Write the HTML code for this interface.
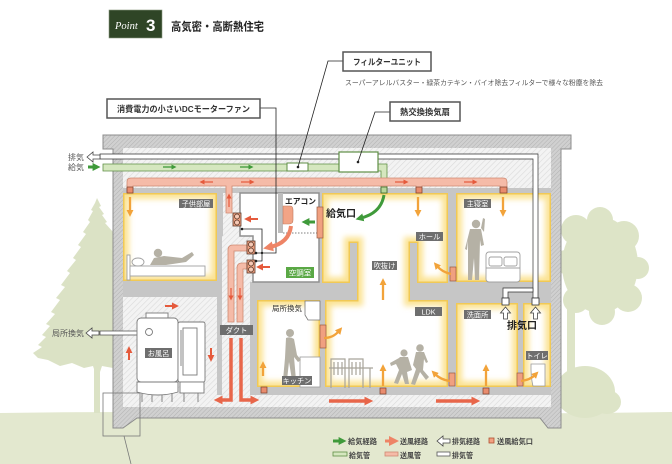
<!DOCTYPE html>
<html><head><meta charset="utf-8">
<style>
html,body{margin:0;padding:0;background:#fff;}
svg{display:block;}
text{font-family:"Liberation Sans","Noto Sans CJK JP",sans-serif;}
</style></head><body>
<svg width="672" height="464" viewBox="0 0 672 464" xmlns="http://www.w3.org/2000/svg">
<defs>
<pattern id="hl" width="4" height="4" patternUnits="userSpaceOnUse" patternTransform="rotate(45)"><rect width="4" height="4" fill="#f3f3f3"/><line x1="0" y1="0" x2="0" y2="4" stroke="#dadada" stroke-width="1.2"/></pattern>
<pattern id="hw" width="3" height="3" patternUnits="userSpaceOnUse" patternTransform="rotate(45)"><rect width="3" height="3" fill="#d0d0d0"/><line x1="0" y1="0" x2="0" y2="3" stroke="#b2b2b2" stroke-width="1"/></pattern>
<filter id="gb" x="-20%" y="-20%" width="140%" height="140%"><feGaussianBlur stdDeviation="3"/></filter>
<marker id="mO" viewBox="0 0 10 10" refX="3" refY="5" markerWidth="7" markerHeight="7" markerUnits="userSpaceOnUse" orient="auto"><path d="M0,0L10,5L0,10Z" fill="#f2a33a"/></marker>
<marker id="mR" viewBox="0 0 10 10" refX="3" refY="5" markerWidth="7" markerHeight="7" markerUnits="userSpaceOnUse" orient="auto"><path d="M0,0L10,5L0,10Z" fill="#e55a3c"/></marker>
<marker id="mRb" viewBox="0 0 10 10" refX="3" refY="5" markerWidth="9" markerHeight="9" markerUnits="userSpaceOnUse" orient="auto"><path d="M0,0L10,5L0,10Z" fill="#e8664a"/></marker>
<marker id="mRs" viewBox="0 0 10 10" refX="3" refY="5" markerWidth="5" markerHeight="5" markerUnits="userSpaceOnUse" orient="auto"><path d="M0,0L10,5L0,10Z" fill="#e55a3c"/></marker>
<marker id="mG" viewBox="0 0 10 10" refX="3" refY="5" markerWidth="8" markerHeight="8" markerUnits="userSpaceOnUse" orient="auto"><path d="M0,0L10,5L0,10Z" fill="#3f9a3a"/></marker>
<marker id="mGs" viewBox="0 0 10 10" refX="3" refY="5" markerWidth="5" markerHeight="5" markerUnits="userSpaceOnUse" orient="auto"><path d="M0,0L10,5L0,10Z" fill="#3f9a3a"/></marker>
<marker id="mS" viewBox="0 0 10 10" refX="3" refY="5" markerWidth="10" markerHeight="10" markerUnits="userSpaceOnUse" orient="auto"><path d="M0,0L10,5L0,10Z" fill="#ee8466"/></marker>
<clipPath id="c1"><path d="M123,193H217V281H123Z"/></clipPath>
<clipPath id="c2"><path d="M456,193H551V282H456Z"/></clipPath>
<clipPath id="c3"><path d="M322,193H448V283H417V243H410V300H448V387H325V300H357V243H350V283H322Z"/></clipPath>
<clipPath id="c4"><path d="M257,300H320V387H257Z"/></clipPath>
<clipPath id="c5"><path d="M456,303H518V387H456Z"/></clipPath>
<clipPath id="c6"><path d="M523,303H551V387H523Z"/></clipPath>
</defs>

<!-- ground -->
<path d="M0,413 Q150,411 300,413 T672,412 V464 H0Z" fill="#e3e8cf"/>
<!-- left conifer -->
<polygon fill="#dbe2c5" points="97,198 101,206 99,207 104,214 102,215 107,222 105,223 113,232 113,368 102,366 100,372 95,372 93,366 84,368 72,363 60,366 48,360 38,358 33,353 42,347 38,345 46,337 42,335 50,326 46,324 55,314 51,312 60,300 56,298 65,287 61,285 70,273 67,271 76,260 73,258 81,247 78,245 86,234 83,232 90,222 88,220 93,211 91,210 95,203"/>
<rect x="94" y="365" width="6" height="48" fill="#dbe2c5"/>
<!-- right tree -->
<g fill="#dde4c7">
<ellipse cx="600" cy="265" rx="38" ry="48"/>
<circle cx="576" cy="230" r="15"/><circle cx="600" cy="220" r="13"/><circle cx="624" cy="236" r="15"/>
<circle cx="638" cy="268" r="11"/><circle cx="628" cy="298" r="14"/><circle cx="602" cy="312" r="13"/>
<circle cx="576" cy="300" r="13"/><circle cx="566" cy="262" r="12"/>
<rect x="567" y="300" width="8" height="75"/>
<ellipse cx="585" cy="392" rx="30" ry="26"/><ellipse cx="607" cy="402" rx="14" ry="12"/>
</g>

<!-- house shell -->
<path d="M103,135 H571 V149 H561 V428 H548 L540,418 H137 L123,428 H113 V149 H103Z" fill="url(#hw)" stroke="#8c8c8c" stroke-width="1"/>
<rect x="123" y="148" width="428" height="259" fill="#c6c6c6"/>
<!-- attic -->
<rect x="123" y="148" width="428" height="40" fill="url(#hl)"/>
<!-- shaft -->
<path d="M223,193 H240 V236 H253 V282 H250 V407 H222 V236 H223Z" fill="url(#hl)"/>
<!-- bath region -->
<rect x="123" y="297" width="94" height="110" fill="url(#hl)"/>
<!-- underfloor -->
<rect x="123" y="395" width="428" height="12" fill="url(#hl)"/>

<!-- glow rooms -->
<g clip-path="url(#c1)"><path d="M123,193H217V281H123Z" fill="#fff"/><path d="M123,193H217V281H123Z" fill="none" stroke="#fbe394" stroke-width="12" filter="url(#gb)"/><path d="M123,193H217V281H123Z" fill="none" stroke="#f1c955" stroke-width="3"/></g>
<g clip-path="url(#c2)"><path d="M456,193H551V282H456Z" fill="#fff"/><path d="M456,193H551V282H456Z" fill="none" stroke="#fbe394" stroke-width="12" filter="url(#gb)"/><path d="M456,193H551V282H456Z" fill="none" stroke="#f1c955" stroke-width="3"/></g>
<g clip-path="url(#c3)"><path d="M322,193H448V283H417V243H410V300H448V387H325V300H357V243H350V283H322Z" fill="#fff"/><path d="M322,193H448V283H417V243H410V300H448V387H325V300H357V243H350V283H322Z" fill="none" stroke="#fbe394" stroke-width="12" filter="url(#gb)"/><path d="M322,193H448V283H417V243H410V300H448V387H325V300H357V243H350V283H322Z" fill="none" stroke="#f1c955" stroke-width="3"/></g>
<g clip-path="url(#c4)"><path d="M257,300H320V387H257Z" fill="#fff"/><path d="M257,300H320V387H257Z" fill="none" stroke="#fbe394" stroke-width="12" filter="url(#gb)"/><path d="M257,300H320V387H257Z" fill="none" stroke="#f1c955" stroke-width="3"/></g>
<g clip-path="url(#c5)"><path d="M456,303H518V387H456Z" fill="#fff"/><path d="M456,303H518V387H456Z" fill="none" stroke="#fbe394" stroke-width="12" filter="url(#gb)"/><path d="M456,303H518V387H456Z" fill="none" stroke="#f1c955" stroke-width="3"/></g>
<g clip-path="url(#c6)"><path d="M523,303H551V387H523Z" fill="#fff"/><path d="M523,303H551V387H523Z" fill="none" stroke="#fbe394" stroke-width="12" filter="url(#gb)"/><path d="M523,303H551V387H523Z" fill="none" stroke="#f1c955" stroke-width="3"/></g>

<!-- 空調室 -->
<path d="M240,193 H319 V282 H253 V236 H240Z" fill="#fff" stroke="#909090" stroke-width="1.5"/>
<rect x="278" y="193" width="5" height="40" fill="#bdbdbd"/>
<line x1="283" y1="233" x2="317" y2="233" stroke="#555" stroke-width="0.8" stroke-dasharray="1.5,1.5"/>
<path d="M283,206 H290 Q293,206 293,210 V220 Q293,224 289,224 H283Z" fill="#f2a486" stroke="#c07a60" stroke-width="0.6"/>
<text x="285" y="204" font-size="8" font-weight="bold" fill="#222" textLength="31" lengthAdjust="spacingAndGlyphs">エアコン</text>
<rect x="286" y="267" width="28" height="11" fill="#5aa845"/>
<text x="300" y="275.5" font-size="7.5" fill="#fff" text-anchor="middle">空調室</text>
<!-- grilles -->
<g fill="#f0a080" stroke="#9a5a40" stroke-width="0.7">
<rect x="317" y="207" width="6" height="31"/>
<rect x="320" y="325" width="6" height="23"/>
<rect x="450" y="267" width="6" height="14"/>
<rect x="449" y="373" width="6" height="13"/>
<rect x="517" y="373" width="6" height="13"/>
</g>

<!-- exhaust pipes -->
<path d="M100,154 H538 V298 H533 V159 H100Z" fill="#fff" stroke="#333" stroke-width="0.7"/>
<path d="M503,298 V288 H533 V292 H508 V298Z" fill="#fff" stroke="#333" stroke-width="0.7"/>
<rect x="502" y="298" width="7" height="7" fill="#fff" stroke="#333" stroke-width="0.8"/>
<rect x="532" y="298" width="7" height="7" fill="#fff" stroke="#333" stroke-width="0.8"/>
<path d="M505.5,307 l5,6 h-3 v6 h-4 v-6 h-3 Z" fill="#fff" stroke="#444" stroke-width="0.8"/>
<path d="M535.5,307 l5,6 h-3 v6 h-4 v-6 h-3 Z" fill="#fff" stroke="#444" stroke-width="0.8"/>

<!-- green supply duct -->
<path d="M103,164 H387 V193 H381 V171 H103Z" fill="#d5e7bf" stroke="#5f8f45" stroke-width="0.8"/>
<rect x="381" y="187" width="6" height="6" fill="#b7d69a" stroke="#3d6a2a" stroke-width="0.8"/>
<rect x="287" y="163" width="21" height="8" fill="#fff" stroke="#5f8f45" stroke-width="1"/>
<circle cx="298" cy="167" r="1.3" fill="#222"/>
<rect x="339" y="152" width="39" height="20" fill="#fff" stroke="#5f8f45" stroke-width="1.2"/>
<circle cx="358" cy="162" r="1.3" fill="#222"/>

<!-- salmon duct -->
<path d="M127,193 V182 Q127,178 131,178 H503 Q507,178 507,182 V193 H500 V186 H422 V193 H416 V186 H232 V213 H226 V186 H133 V193Z" fill="#f5bba8" stroke="#cf8a72" stroke-width="0.8"/>
<g fill="#e98c6e" stroke="#7a3f2c" stroke-width="0.7">
<rect x="127" y="187" width="6" height="6"/><rect x="416" y="187" width="6" height="6"/><rect x="500" y="187" width="7" height="6"/>
<rect x="261" y="387" width="6" height="6"/><rect x="380" y="388" width="6" height="6"/><rect x="483" y="388" width="6" height="6"/>
</g>
<!-- fan ducts -->
<path d="M247,245 H233 Q228,245 228,250 V322 H234 V251 H247Z" fill="#f5bba8" stroke="#cf8a72" stroke-width="0.8"/>
<path d="M247,263 H242 Q237,263 237,268 V322 H243 V269 H247Z" fill="#f5bba8" stroke="#cf8a72" stroke-width="0.8"/>
<!-- fans -->
<g stroke="#5a3a2a" stroke-width="0.8">
<rect x="233" y="213" width="8" height="13" fill="#f2a182"/>
<rect x="247" y="241" width="8" height="13" fill="#f2a182"/>
<rect x="247" y="260" width="8" height="13" fill="#f2a182"/>
<g fill="#f7c9b5"><circle cx="237" cy="216.5" r="2.5"/><circle cx="237" cy="222.5" r="2.5"/><circle cx="251" cy="244.5" r="2.5"/><circle cx="251" cy="250.5" r="2.5"/><circle cx="251" cy="263.5" r="2.5"/><circle cx="251" cy="269.5" r="2.5"/></g>
</g>

<!-- leaders -->
<g fill="none" stroke="#222" stroke-width="0.8">
<path d="M260,108 H276 V253 H256"/>
<path d="M242,229 H262 V261 H256"/>
<path d="M343,61 H328 L298,167"/>
<path d="M390,112 H375 L358,162"/>
</g>
<circle cx="256" cy="253" r="1.3" fill="#222"/><circle cx="242" cy="229" r="1.3" fill="#222"/><circle cx="256" cy="261" r="1.3" fill="#222"/><circle cx="262" cy="253" r="1.2" fill="#222"/>

<!-- label boxes -->
<rect x="343" y="52" width="88" height="19" fill="#fff" stroke="#555" stroke-width="1.5"/>
<text x="387" y="65" font-size="8.5" font-weight="bold" fill="#333" text-anchor="middle" textLength="68" lengthAdjust="spacingAndGlyphs">フィルターユニット</text>
<text x="345" y="85" font-size="7" fill="#555" textLength="258" lengthAdjust="spacingAndGlyphs">スーパーアレルバスター・緑茶カテキン・バイオ除去フィルターで様々な粉塵を除去</text>
<rect x="107" y="99" width="153" height="19" fill="#fff" stroke="#555" stroke-width="1.5"/>
<text x="183.5" y="112" font-size="8.5" font-weight="bold" fill="#333" text-anchor="middle" textLength="133" lengthAdjust="spacingAndGlyphs">消費電力の小さいDCモーターファン</text>
<rect x="390" y="102" width="70" height="19" fill="#fff" stroke="#555" stroke-width="1.5"/>
<text x="425" y="115" font-size="8.5" font-weight="bold" fill="#333" text-anchor="middle" textLength="50" lengthAdjust="spacingAndGlyphs">熱交換換気扇</text>

<!-- header -->
<rect x="109" y="10" width="53" height="28" fill="#2f4526" stroke="#8a9a80" stroke-width="0.6"/>
<text x="115" y="29" font-size="10.5" font-style="italic" fill="#fff" style="font-family:'Liberation Serif',serif">Point</text>
<text x="146" y="31" font-size="17" font-weight="bold" fill="#fff">3</text>
<text x="171" y="30.5" font-size="11.5" font-weight="bold" fill="#222" textLength="93" lengthAdjust="spacingAndGlyphs">高気密・高断熱住宅</text>

<!-- outside labels -->
<text x="68" y="160" font-size="8" fill="#555">排気</text>
<text x="68" y="170" font-size="8" fill="#555">給気</text>
<path d="M87,157 l6,-5 v3 h7 v4 h-7 v3 Z" fill="#fff" stroke="#444" stroke-width="0.8"/>
<path d="M88,167 H95" stroke="#3f9a3a" stroke-width="3" marker-end="url(#mG)"/>
<text x="52" y="336" font-size="8" fill="#555">局所換気</text>
<path d="M86,333 l6,-5 v3 h7 v4 h-7 v3 Z" fill="#fff" stroke="#444" stroke-width="0.8"/>
<rect x="100" y="331" width="38" height="4" fill="#fff" stroke="#444" stroke-width="0.7"/>

<!-- bath unit -->
<g fill="#fff" stroke="#7a7a7a" stroke-width="0.9">
<rect x="146" y="313" width="22" height="6"/>
<rect x="137" y="318" width="41" height="64" rx="4"/>
<circle cx="149" cy="332" r="3.5"/>
<rect x="178" y="322" width="27" height="60" rx="2"/>
<rect x="183" y="328" width="14" height="47"/>
<line x1="181" y1="330" x2="181" y2="366"/>
<path d="M137,382 H178 V392 Q158,398 137,392Z"/>
<rect x="180" y="382" width="24" height="11"/>
<path d="M142,393 V402 M152,395 V402 M162,395 V402 M172,393 V402 M184,393 V402 M198,393 V402"/>
</g>

<!-- kitchen stuff -->
<path d="M305,301 H320 V320 H308 L305,315Z" fill="#fff" stroke="#777" stroke-width="0.8"/>
<rect x="300" y="357" width="20" height="30" fill="#fff" stroke="#999" stroke-width="0.8"/>
<g fill="#b5b1a5">
<circle cx="290" cy="333" r="4"/>
<path d="M286,338 Q290,336 294,339 L297,355 L301,360 L298,362 L294,357 L296,380 L292,380 L289,362 L287,380 L283,380 L285,358 Z"/>
<!-- man 主寝室 -->
<circle cx="476" cy="224" r="4.2"/>
<path d="M470,229 H481 L484,245 L481,246 L480,240 L479,280 L475,280 L474,258 L472,280 L468,280 L468,240 L467,250 L465,249 Z"/>
<path d="M481,228 L483,218 L485,219 L484,232Z"/>
<!-- kids LDK -->
<circle cx="404" cy="353" r="3.6"/>
<path d="M400,357 H408 L412,370 L407,372 L409,384 L405,384 L402,374 L398,384 L394,383 L399,370 L396,364 L391,366 L390,363 L399,358Z"/>
<circle cx="420" cy="348" r="3.8"/>
<path d="M416,352 H424 L428,362 L426,363 L424,359 L423,370 L429,377 L426,380 L420,372 L415,385 L411,384 L416,369 L413,365 Z"/>
<!-- child lying -->
<circle cx="158" cy="253" r="4.2"/>
<path d="M154,258 L164,256 L182,258 L192,252 L194,255 L186,262 L166,265 L150,265 Z"/>
</g>
<!-- beds -->
<g fill="#fff" stroke="#a0a0a0" stroke-width="0.9">
<rect x="127" y="255" width="3" height="25"/>
<rect x="130" y="266" width="75" height="10"/>
<ellipse cx="138" cy="262" rx="6" ry="4"/>
<rect x="486" y="252" width="34" height="30" rx="3"/>
<rect x="489" y="257" width="13" height="9" rx="2"/><rect x="504" y="257" width="13" height="9" rx="2"/>
<line x1="486" y1="268" x2="520" y2="268"/>
</g>
<!-- chairs/table -->
<g fill="none" stroke="#a8a49a" stroke-width="1.2">
<path d="M331,388 V359 H345 V388 M334,362 V375 M338,362 V375 M342,362 V375"/>
<path d="M349,388 V359 H363 V388 M352,362 V375 M356,362 V375 M360,362 V375"/>
<path d="M329,368 H373 M370,368 V388"/>
</g>
<!-- toilet -->
<path d="M531,364 H545 V386 H533 Q531,378 531,370Z" fill="#fff" stroke="#999" stroke-width="0.8"/>

<!-- room labels -->
<g fill="#6e6e6e">
<rect x="179" y="199" width="34" height="9"/><rect x="464" y="199" width="27" height="9"/>
<rect x="416" y="232" width="27" height="9"/><rect x="372" y="261" width="25" height="9"/>
<rect x="415" y="307" width="27" height="9"/><rect x="464" y="310" width="27" height="9"/>
<rect x="526" y="351" width="22" height="9"/><rect x="282" y="376" width="30" height="9"/>
<rect x="145" y="348" width="27" height="10"/><rect x="220" y="325" width="33" height="10"/>
</g>
<g fill="#fff" font-size="7.2" text-anchor="middle">
<text x="196" y="206.5">子供部屋</text><text x="477.5" y="206.5">主寝室</text>
<text x="429.5" y="239.5">ホール</text><text x="384.5" y="268.5">吹抜け</text>
<text x="428.5" y="314.5">LDK</text><text x="477.5" y="317.5">洗面所</text>
<text x="537" y="358.5">トイレ</text><text x="297" y="383.5">キッチン</text>
<text x="158.5" y="356">お風呂</text><text x="236.5" y="333">ダクト</text>
</g>
<text x="272" y="311" font-size="7.5" fill="#333">局所換気</text>
<text x="326" y="217" font-size="10" font-weight="bold" fill="#222">給気口</text>
<text x="507" y="329" font-size="10" font-weight="bold" fill="#222">排気口</text>

<!-- orange arrows -->
<g fill="none" stroke="#f2a33a" stroke-width="2.3">
<path d="M130,197 V212" marker-end="url(#mO)"/>
<path d="M418,197 V212" marker-end="url(#mO)"/>
<path d="M503,197 V212" marker-end="url(#mO)"/>
<path d="M263,376 V366" marker-end="url(#mO)"/>
<path d="M383,386 V369" marker-end="url(#mO)"/>
<path d="M486,386 V369" marker-end="url(#mO)"/>
<path d="M383,300 V283" marker-end="url(#mO)"/>
<path d="M451,274 Q442,272 437,266" marker-end="url(#mO)"/>
<path d="M324,338 Q333,338 339,331" marker-end="url(#mO)"/>
<path d="M450,381 Q441,380 435,374" marker-end="url(#mO)"/>
<path d="M521,381 Q530,380 535,375" marker-end="url(#mO)"/>
</g>
<!-- red arrows -->
<g fill="none" stroke="#e55a3c" stroke-width="2">
<path d="M129,360 V351" marker-end="url(#mR)"/>
<path d="M165,306 H174" marker-end="url(#mR)"/>
<path d="M211,348 V357" marker-end="url(#mR)"/>
<path d="M258,219 H249" marker-end="url(#mR)"/>
<path d="M270,267 H261" marker-end="url(#mR)"/>
</g>
<g fill="none" stroke="#e55a3c" stroke-width="1.2">
<path d="M213,182 H203" marker-end="url(#mRs)"/>
<path d="M241,182 H251" marker-end="url(#mRs)"/>
<path d="M395,182 H405" marker-end="url(#mRs)"/>
<path d="M464,182 H474" marker-end="url(#mRs)"/>
<path d="M229,207 V197" marker-end="url(#mRs)"/>
<path d="M231,288 V297" marker-end="url(#mRs)"/>
<path d="M240,288 V297" marker-end="url(#mRs)"/>
</g>
<g fill="none" stroke="#e8664a" stroke-width="3.5">
<path d="M231,338 V400 H220" marker-end="url(#mRb)"/>
<path d="M241,338 V400 H253" marker-end="url(#mRb)"/>
<path d="M329,401 H367" marker-end="url(#mRb)"/>
<path d="M436,401 H474" marker-end="url(#mRb)"/>
</g>
<!-- green arrows -->
<path d="M384,195 Q381,213 361,218" fill="none" stroke="#3f9a3a" stroke-width="3" marker-end="url(#mG)"/>
<path d="M315,222 H307" fill="none" stroke="#3f9a3a" stroke-width="3" marker-end="url(#mG)"/>
<path d="M163,167 H173" fill="none" stroke="#3f9a3a" stroke-width="1.3" marker-end="url(#mGs)"/>
<path d="M240,167 H250" fill="none" stroke="#3f9a3a" stroke-width="1.3" marker-end="url(#mGs)"/>
<!-- AC curved arrow -->
<path d="M291,226 Q289,243 270,247" fill="none" stroke="#ee8466" stroke-width="4" marker-end="url(#mS)"/>

<!-- detail callout -->
<rect x="103" y="393" width="37" height="43" fill="none" stroke="#777" stroke-width="0.8"/>
<line x1="124" y1="436" x2="131" y2="464" stroke="#777" stroke-width="0.8"/>

<!-- legend -->
<path d="M333,441 H341" stroke="#3f9a3a" stroke-width="3" marker-end="url(#mG)"/>
<text x="348" y="444" font-size="7.5" font-weight="bold" fill="#444" textLength="29" lengthAdjust="spacingAndGlyphs">給気経路</text>
<path d="M385,441 H392" stroke="#ee8466" stroke-width="3" marker-end="url(#mS)"/>
<text x="400" y="444" font-size="7.5" font-weight="bold" fill="#444" textLength="28" lengthAdjust="spacingAndGlyphs">送風経路</text>
<path d="M437,441 l6,-5 v3 h7 v4 h-7 v3 Z" fill="#fff" stroke="#444" stroke-width="0.8"/>
<text x="452" y="444" font-size="7.5" font-weight="bold" fill="#444" textLength="28" lengthAdjust="spacingAndGlyphs">排気経路</text>
<rect x="489" y="438" width="5" height="5" fill="#f2a182" stroke="#b05030" stroke-width="0.8"/>
<text x="497" y="444" font-size="7.5" font-weight="bold" fill="#444" textLength="36" lengthAdjust="spacingAndGlyphs">送風給気口</text>
<rect x="333" y="452" width="14" height="4" fill="#d5e7bf" stroke="#5f8f45" stroke-width="0.8"/>
<text x="349" y="458" font-size="7.5" font-weight="bold" fill="#444" textLength="21" lengthAdjust="spacingAndGlyphs">給気管</text>
<rect x="385" y="452" width="13" height="4" fill="#f5bba8" stroke="#cf8a72" stroke-width="0.8"/>
<text x="400" y="458" font-size="7.5" font-weight="bold" fill="#444" textLength="21" lengthAdjust="spacingAndGlyphs">送風管</text>
<rect x="437" y="452" width="13" height="4" fill="#fff" stroke="#555" stroke-width="0.8"/>
<text x="452" y="458" font-size="7.5" font-weight="bold" fill="#444" textLength="21" lengthAdjust="spacingAndGlyphs">排気管</text>
</svg>
</body></html>
